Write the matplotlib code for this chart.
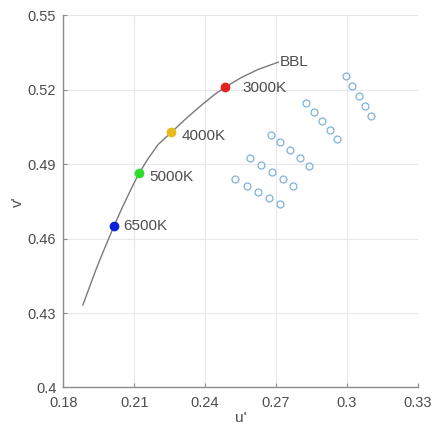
import matplotlib
matplotlib.use("Agg")
from matplotlib import pyplot

pyplot.rcParams["font.family"] = ["Liberation Sans", "DejaVu Sans"]

# black body locus
bbl_u = [0.1883, 0.1909, 0.1935, 0.1963, 0.1990, 0.2015, 0.2048, 0.2085,
         0.2120, 0.2160, 0.2202, 0.2256, 0.2315, 0.2386, 0.2442, 0.2484,
         0.2555, 0.2625, 0.2710]
bbl_v = [0.4333, 0.4400, 0.4467, 0.4534, 0.4595, 0.4652, 0.4722, 0.4796,
         0.4863, 0.4924, 0.4980, 0.5027, 0.5080, 0.5139, 0.5182, 0.5210,
         0.5250, 0.5282, 0.5311]

cct_labels = ["3000K", "4000K", "5000K", "6500K"]
cct_u = [0.2486, 0.2256, 0.2122, 0.2015]
cct_v = [0.5212, 0.5029, 0.4865, 0.4652]
cct_colors = ["#e3231b", "#e6bb1c", "#2ddc2d", "#0a23d8"]
# label offsets from the dot, in points
label_dx = [12, 7.5, 7, 6.5]
label_dy = [-1, -3, -3, 0]

# measured points, five rows of five
meas_u = [
    0.2997, 0.3023, 0.3052, 0.3077, 0.3101,
    0.2827, 0.2861, 0.2894, 0.2928, 0.2960,
    0.2678, 0.2717, 0.2758, 0.2801, 0.2840,
    0.2592, 0.2638, 0.2682, 0.2729, 0.2772,
    0.2527, 0.2576, 0.2624, 0.2671, 0.2719,
]
meas_v = [
    0.5255, 0.5214, 0.5175, 0.5133, 0.5093,
    0.5147, 0.5110, 0.5073, 0.5038, 0.5000,
    0.5019, 0.4988, 0.4957, 0.4925, 0.4894,
    0.4925, 0.4897, 0.4869, 0.4842, 0.4813,
    0.4839, 0.4812, 0.4788, 0.4763, 0.4739,
]

xticks = [0.18, 0.21, 0.24, 0.27, 0.3, 0.33]
yticks = [0.4, 0.43, 0.46, 0.49, 0.52, 0.55]

text_color = "#4d4d4d"
axis_color = "#8c8c8c"

fig = pyplot.figure(figsize=(4.33, 4.26), dpi=100)
ax = fig.add_axes([0.1462, 0.0904, 0.8185, 0.8737])

ax.plot(bbl_u, bbl_v, color="#7a7a7a", lw=1.0, zorder=2)
ax.annotate("BBL", (bbl_u[-1], bbl_v[-1]), xytext=(1, 0), textcoords="offset points",
            fontsize=11, color=text_color, va="center", ha="left")

for lab, u, v, c, dx, dy in zip(cct_labels, cct_u, cct_v, cct_colors, label_dx, label_dy):
    ax.plot(u, v, "o", ms=6, color=c, mec=c, zorder=3)
    ax.annotate(lab, (u, v), xytext=(dx, dy), textcoords="offset points",
                fontsize=11, color=text_color, va="center", ha="left")

ax.plot(meas_u, meas_v, "o", ms=5, mfc="none", mec="#7fb2da", mew=0.9,
        ls="none", zorder=3)

ax.set_xlim(0.18, 0.33)
ax.set_ylim(0.4, 0.55)
ax.set_xticks(xticks)
ax.set_xticklabels(["0.18", "0.21", "0.24", "0.27", "0.3", "0.33"])
ax.set_yticks(yticks)
ax.set_yticklabels(["0.4", "0.43", "0.46", "0.49", "0.52", "0.55"])
ax.grid(True, color="#e8e8e8", lw=0.8)
ax.set_axisbelow(True)
for side in ("top", "right"):
    ax.spines[side].set_visible(False)
for side in ("left", "bottom"):
    ax.spines[side].set_color(axis_color)
    ax.spines[side].set_linewidth(1.0)
ax.tick_params(direction="in", length=3, color=axis_color, labelcolor=text_color,
               labelsize=10.5)
ax.tick_params(axis="x", pad=6)
ax.tick_params(axis="y", pad=5)
ax.set_xlabel("u'", fontsize=11, color=text_color, labelpad=1)
ax.set_ylabel("v'", fontsize=11, color=text_color, labelpad=2)

fig.savefig("out.png", dpi=100)
